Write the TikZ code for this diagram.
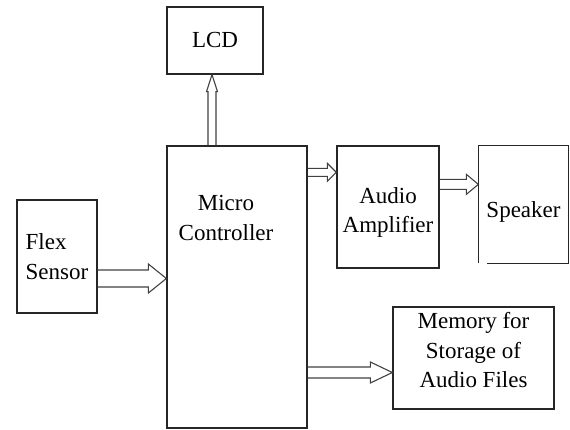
\documentclass[tikz,border=0pt]{standalone}
\usepackage{fontspec}
\setmainfont{Liberation Serif}
\usetikzlibrary{calc,positioning}

% hollow block arrow: start, tip, shaft half width, head half width, head length
\newcommand{\fatarrow}[5]{%
  \coordinate (fa-h) at ($(#2)!#5!(#1)$);
  \draw[fatline] ($(#1)!#3!90:(#2)$) -- ($(fa-h)!#3!90:(#2)$) -- ($(fa-h)!#4!90:(#2)$) -- (#2)
    -- ($(fa-h)!#4!-90:(#2)$) -- ($(fa-h)!#3!-90:(#2)$) -- ($(#1)!#3!-90:(#2)$);
}

\begin{document}
\begin{tikzpicture}[x=1pt, y=-1pt,
  blk/.style={draw=black!85, line width=1.3pt, inner sep=0pt, align=center, font=\rmfamily\fontsize{23}{29.5}\selectfont},
  txt/.style={inner sep=0pt, align=center, font=\rmfamily\fontsize{23}{29.5}\selectfont},
  edge/.style={draw=black!85, line width=1.3pt},
  fatline/.style={draw=black!75, line width=1.1pt, line join=miter}]
\useasboundingbox (0,0) rectangle (570,430);

\node[blk, minimum width=96pt, minimum height=67pt] (lcd) at (215,40.5) {LCD};
\node[blk, minimum width=140pt, minimum height=282pt] (micro) at (237,287) {};
\node[txt] (microtxt) at (226,218) {Micro\\Controller};
\node[blk, minimum width=80pt, minimum height=113pt, align=left] (flex) at (57,256.5) {Flex\\Sensor};
\node[blk, minimum width=102pt, minimum height=122pt, text height=56pt] (amp) at (388,207) {Audio\\Amplifier};
\node[blk, draw=none, minimum width=89pt, minimum height=117pt, text height=31pt] (spk) at (523.5,204.5) {Speaker};
\draw[edge] ($(spk.south west)+(0,-1)$) -- (spk.north west) -- (spk.north east) -- (spk.south east) -- ($(spk.south west)+(9,0)$);
\node[blk, minimum width=161pt, minimum height=102pt, text depth=16pt] (mem) at (473.5,358) {Memory for\\Storage of\\Audio Files};

% connections
\coordinate (m-up) at ($(micro.north)+(-25,0)$);
\coordinate (l-dn) at (m-up |- lcd.south);
\fatarrow{m-up}{l-dn}{4pt}{5.5pt}{17pt}

\coordinate (f-out) at ($(flex.east)+(0,22)$);
\coordinate (m-in) at (f-out -| micro.west);
\fatarrow{f-out}{m-in}{8.5pt}{14.5pt}{18pt}

\coordinate (m-amp) at ($(micro.north east)+(0,27)$);
\coordinate (a-in) at (m-amp -| amp.west);
\fatarrow{m-amp}{a-in}{4pt}{9pt}{9pt}

\coordinate (a-out) at ($(amp.north east)+(0,39)$);
\coordinate (s-in) at (a-out -| spk.west);
\fatarrow{a-out}{s-in}{5pt}{10pt}{12pt}

\coordinate (m-mem) at ($(micro.east |- mem.west)+(0,14.5)$);
\coordinate (mm-in) at (m-mem -| mem.west);
\fatarrow{m-mem}{mm-in}{5.5pt}{10.5pt}{22pt}
\end{tikzpicture}
\end{document}
